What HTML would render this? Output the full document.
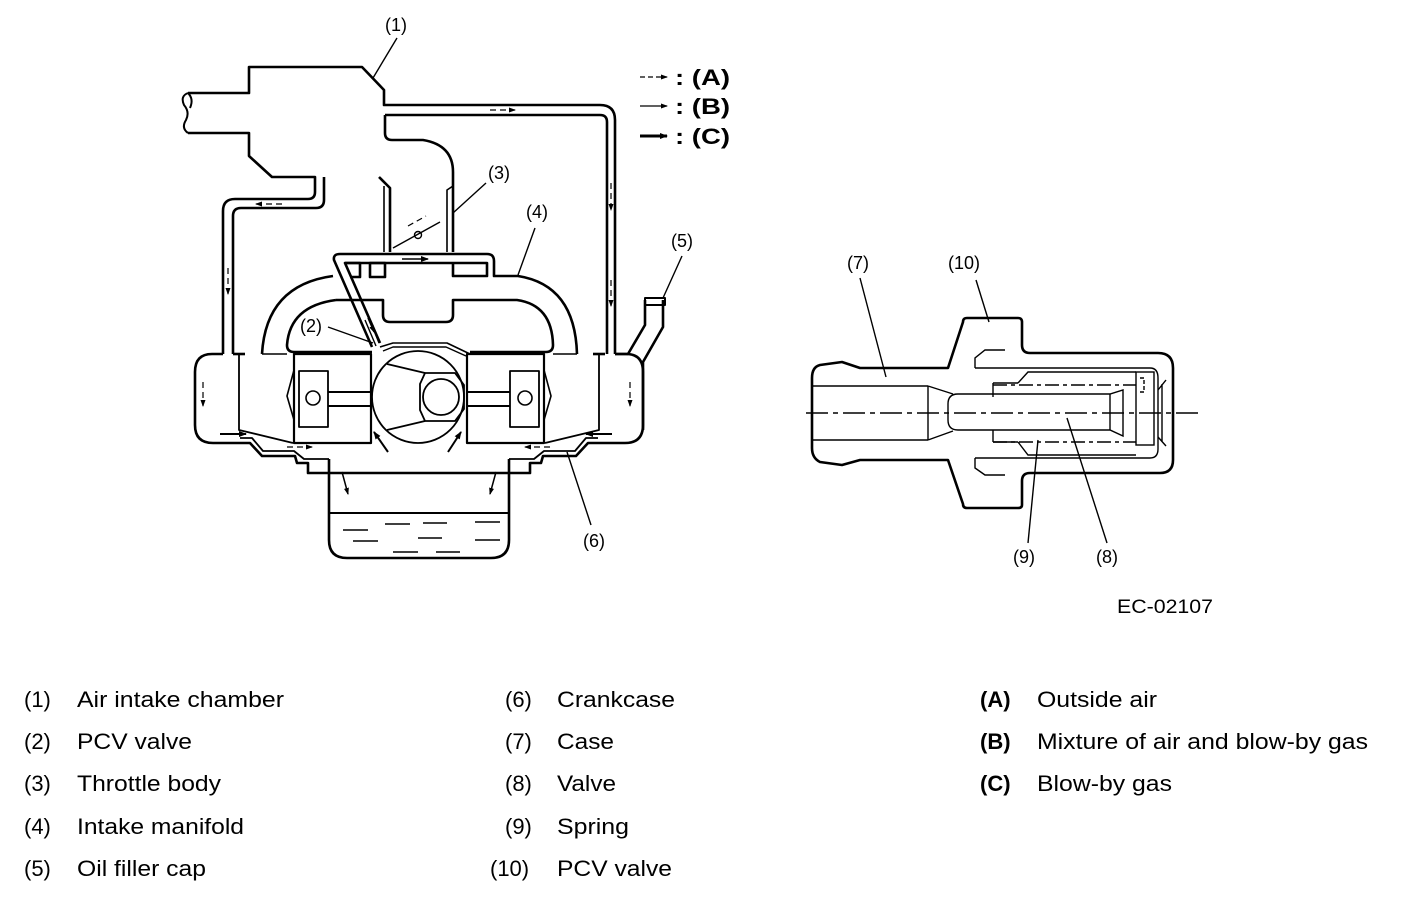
<!DOCTYPE html>
<html><head><meta charset="utf-8"><style>
html,body{margin:0;padding:0;background:#fff;}
svg{display:block;}
text{font-family:"Liberation Sans",Arial,sans-serif;fill:#000;}
</style></head><body>
<svg width="1408" height="898" viewBox="0 0 1408 898" xmlns="http://www.w3.org/2000/svg">
<defs>
<marker id="ah" markerWidth="8" markerHeight="6" refX="7" refY="3" orient="auto" markerUnits="userSpaceOnUse"><path d="M0,0 L8,3 L0,6 Z" fill="#000"/></marker>
<marker id="ahs" markerWidth="7" markerHeight="5" refX="6" refY="2.5" orient="auto" markerUnits="userSpaceOnUse"><path d="M0,0 L7,2.5 L0,5 Z" fill="#000"/></marker>
</defs>

<g fill="none" stroke="#000" stroke-width="2.6" stroke-linejoin="round">
<path d="M188 93 L249 93 L249 67 L362 67 L384 90 L384 105 L600 105 Q615 105 615 120 L615 354"/>
<path d="M188 133 L249 133 L249 156 L272 177 L315 177 L315 192 Q315 199 308 199 L235 199 Q223 199 223 211 L223 354"/>
<path d="M324 177 L324 200 Q324 208 316 208 L241 208 Q233 208 233 216 L233 354"/>
<path d="M385 115 L600 115 Q607 115 607 122 L607 354"/>
<path d="M188 93 Q180 96 184 105 Q190 112 186 120 Q181 128 188 133" stroke-width="2"/>
<path d="M188 93 Q194 99 190 108" stroke-width="2"/>
<path d="M385 115 L385 133 Q385 140 392 140 L423 140 Q453 145 453 172 L453 252"/>
<path d="M379 177 L390 188 L390 252"/>
<path d="M384 186 L384 252" stroke-width="1.6"/>
<path d="M453 186 L447 190 L447 252" stroke-width="1.6"/>
<line x1="393" y1="248" x2="440" y2="222" stroke-width="1.4"/>
<circle cx="418" cy="235" r="3.5" stroke-width="1.4"/>

<path d="M372 347 L334 260 Q333 254 340 254 L487 254 Q494 254 494 261 L494 276 L518 276 Q575 285 577 354"/>
<path d="M380 343 L345 263 L487 263 L487 276 L453 276 L453 263"/>
<path d="M345 263 L360 263 L360 277 L350 277"/>
<path d="M370 263 L385 263 L385 277 L370 277 Z"/>
<path d="M333 276 Q266 285 262 354"/>
<path d="M336 300 Q290 306 287 345 Q287 352 294 352 L372 352"/>
<path d="M336 300 L383 300 L383 315 Q383 322 390 322 L446 322 Q453 322 453 315 L453 300 L517 300 Q552 305 553 345 Q553 352 546 352 L470 352"/>
<line x1="365" y1="320" x2="376" y2="346" stroke-width="1.4"/>
<line x1="369" y1="318" x2="379" y2="343" stroke-width="1.4"/>
<path d="M380 347 L393 343 L447 343 L470 354" stroke-width="1.6"/>
<path d="M383 351 L393 347 L446 347 L466 356" stroke-width="1.4"/>

<line x1="262" y1="354" x2="287" y2="354" stroke-width="1.4"/>
<line x1="553" y1="354" x2="577" y2="354" stroke-width="1.4"/>

<path d="M615 354 L628 354 L645 325 L645 300"/>
<path d="M663 300 L663 327 L643 362 L643 430"/>
<rect x="645" y="298" width="20" height="7" stroke-width="2"/>
</g>

<g id="half" fill="none" stroke="#000" stroke-width="2.6" stroke-linejoin="round">
<path d="M223 354 L212 354 Q195 354 195 372 L195 425 Q195 443 213 443 L250 443 L262 456 L295 456 L297 463 L308 463 L308 473 L419 473"/>
<path d="M233 354 L245 354"/>
<path d="M240 438 L252 438 L263 451 L294 451 L304 459 L329 459" stroke-width="1.8"/>
<path d="M329 459 L329 540 Q329 558 347 558 L419 558"/>
<path d="M239 354 L239 430 L293 443" stroke-width="1.8"/>
<rect x="294" y="354" width="77" height="89" stroke-width="2.2"/>
<rect x="299" y="371" width="29" height="56" stroke-width="1.8"/>
<line x1="328" y1="392" x2="371" y2="392" stroke-width="2"/>
<line x1="328" y1="406" x2="371" y2="406" stroke-width="2"/>
<circle cx="313" cy="398" r="7" stroke-width="1.6"/>
<path d="M294 370 L287 396 L294 420" stroke-width="1.6"/>
<line x1="329" y1="513" x2="419" y2="513" stroke-width="2"/>
</g>
<use href="#half" transform="translate(838,0) scale(-1,1)"/>

<g fill="none" stroke="#000" stroke-width="1.8">
<circle cx="418" cy="397" r="46"/>
<line x1="387" y1="364" x2="425" y2="373"/>
<line x1="387" y1="430" x2="425" y2="421"/>
<path d="M425 373 L455 373 L464 385 L464 409 L455 421 L425 421 L420 410 L420 384 Z"/>
<circle cx="441" cy="397" r="18"/>
</g>

<g stroke="#000" stroke-width="1.6">
<line x1="343" y1="530" x2="368" y2="530"/><line x1="385" y1="524" x2="410" y2="524"/>
<line x1="423" y1="523" x2="447" y2="523"/><line x1="475" y1="522" x2="500" y2="522"/>
<line x1="353" y1="541" x2="378" y2="541"/><line x1="418" y1="538" x2="442" y2="538"/>
<line x1="475" y1="540" x2="500" y2="540"/><line x1="393" y1="552" x2="418" y2="552"/>
<line x1="436" y1="552" x2="460" y2="552"/>
</g>

<g stroke="#000" fill="none">
<line x1="490" y1="110" x2="515" y2="110" stroke-width="1.2" stroke-dasharray="6,4" marker-end="url(#ahs)"/>
<line x1="611" y1="183" x2="611" y2="210" stroke-width="1.2" stroke-dasharray="6,4" marker-end="url(#ahs)"/>
<line x1="611" y1="280" x2="611" y2="306" stroke-width="1.2" stroke-dasharray="6,4" marker-end="url(#ahs)"/>
<line x1="282" y1="204" x2="256" y2="204" stroke-width="1.2" stroke-dasharray="6,4" marker-end="url(#ahs)"/>
<line x1="228" y1="268" x2="228" y2="294" stroke-width="1.2" stroke-dasharray="6,4" marker-end="url(#ahs)"/>
<line x1="203" y1="382" x2="203" y2="406" stroke-width="1.2" stroke-dasharray="6,4" marker-end="url(#ahs)"/>
<line x1="630" y1="382" x2="630" y2="406" stroke-width="1.2" stroke-dasharray="6,4" marker-end="url(#ahs)"/>
<line x1="287" y1="447" x2="312" y2="447" stroke-width="1.2" stroke-dasharray="6,4" marker-end="url(#ahs)"/>
<line x1="550" y1="447" x2="525" y2="447" stroke-width="1.2" stroke-dasharray="6,4" marker-end="url(#ahs)"/>
<line x1="408" y1="226" x2="426" y2="216" stroke-width="1.2" stroke-dasharray="6,4"/>
<line x1="402" y1="259" x2="428" y2="259" stroke-width="1.5" marker-end="url(#ah)"/>
<line x1="220" y1="434" x2="246" y2="434" stroke-width="2" marker-end="url(#ah)"/>
<line x1="612" y1="434" x2="586" y2="434" stroke-width="2" marker-end="url(#ah)"/>
<line x1="388" y1="452" x2="374" y2="432" stroke-width="2" marker-end="url(#ah)"/>
<line x1="448" y1="452" x2="461" y2="432" stroke-width="2" marker-end="url(#ah)"/>
<line x1="342" y1="472" x2="348" y2="494" stroke-width="1.5" marker-end="url(#ahs)"/>
<line x1="496" y1="472" x2="490" y2="494" stroke-width="1.5" marker-end="url(#ahs)"/>
<line x1="368" y1="318" x2="374" y2="332" stroke-width="1.5" marker-end="url(#ahs)"/>
</g>

<g stroke="#000" stroke-width="1.4">
<line x1="397" y1="38" x2="373" y2="78"/>
<line x1="486" y1="183" x2="453" y2="213"/>
<line x1="535" y1="228" x2="518" y2="275"/>
<line x1="682" y1="256" x2="663" y2="298"/>
<line x1="328" y1="327" x2="373" y2="343"/>
<line x1="567" y1="452" x2="591" y2="525"/>
</g>
<g font-size="18">
<text x="385" y="31">(1)</text>
<text x="488" y="179">(3)</text>
<text x="526" y="218">(4)</text>
<text x="671" y="247">(5)</text>
<text x="300" y="332">(2)</text>
<text x="583" y="547">(6)</text>
<text x="847" y="269">(7)</text>
<text x="948" y="269">(10)</text>
<text x="1013" y="563">(9)</text>
<text x="1096" y="563">(8)</text>
</g>

<g stroke="#000" fill="none">
<line x1="640" y1="77" x2="667" y2="77" stroke-width="1.3" stroke-dasharray="5,3" marker-end="url(#ahs)"/>
<line x1="640" y1="106" x2="667" y2="106" stroke-width="1.3" marker-end="url(#ahs)"/>
<line x1="640" y1="136" x2="667" y2="136" stroke-width="3" marker-end="url(#ah)"/>
</g>
<g font-size="22" font-weight="bold">
<text x="675" y="85" textLength="55" lengthAdjust="spacingAndGlyphs">: (A)</text>
<text x="675" y="114" textLength="55" lengthAdjust="spacingAndGlyphs">: (B)</text>
<text x="675" y="144" textLength="55" lengthAdjust="spacingAndGlyphs">: (C)</text>
</g>

<g fill="none" stroke="#000" stroke-width="2.6" stroke-linejoin="round">
<path d="M820 365 L842 362 L860 368 L948 368 L963 322 Q963 318 967 318 L1018 318 Q1022 318 1022 322 L1022 345 Q1022 353 1030 353 L1158 353 Q1173 353 1173 368 L1173 460 Q1173 473 1160 473 L1030 473 Q1022 473 1022 481 L1022 505 Q1022 508 1018 508 L967 508 Q963 508 963 504 L948 460 L860 460 L842 465 L820 462 Q812 458 812 448 L812 378 Q812 367 820 365 Z"/>
</g>
<g fill="none" stroke="#000" stroke-width="1.4">
<line x1="812" y1="386" x2="928" y2="386"/>
<line x1="812" y1="440" x2="928" y2="440"/>
<line x1="928" y1="386" x2="928" y2="440"/>
<line x1="928" y1="386" x2="953" y2="394"/>
<line x1="928" y1="440" x2="953" y2="431"/>
<path d="M958 394 L1110 394 L1123 390 L1123 436 L1110 430 L958 430 Q948 430 948 420 L948 404 Q948 394 958 394 Z"/>
<line x1="1110" y1="394" x2="1110" y2="430"/>
<rect x="1136" y="372" width="18" height="73"/>
<path d="M975 368 L1150 368 Q1158 368 1158 378 L1158 449 Q1158 458 1150 458 L975 458"/>
<path d="M975 368 L975 358 L985 350 L1005 350"/>
<path d="M975 458 L975 468 L985 475 L1005 475"/>
<path d="M993 383 L993 397"/><path d="M993 430 L993 442"/>
<line x1="993" y1="383" x2="1018" y2="383"/><line x1="993" y1="442" x2="1018" y2="442"/>
<path d="M1018 383 L1028 372 L1136 372"/>
<path d="M1018 442 L1028 455 L1136 455"/>
<line x1="993" y1="385" x2="1136" y2="385" stroke-dasharray="14,4,4,4"/>
<line x1="993" y1="442" x2="1136" y2="442" stroke-dasharray="14,4,4,4"/>
<path d="M1140 378 L1144 378 L1144 392 L1140 392" stroke-dasharray="4,2"/>
<path d="M1158 390 L1166 380 M1158 437 L1166 446 M1162 384 L1162 442"/>
<line x1="806" y1="413" x2="1198" y2="413" stroke-width="1.6" stroke-dasharray="22,5,5,5"/>
<line x1="860" y1="278" x2="886" y2="377"/>
<line x1="976" y1="280" x2="989" y2="322"/>
<line x1="1038" y1="440" x2="1028" y2="543"/>
<line x1="1067" y1="418" x2="1107" y2="543"/>
</g>

<text x="1117" y="613" font-size="19" textLength="96" lengthAdjust="spacingAndGlyphs">EC-02107</text>

<g font-size="22">
<text x="24" y="707">(1)</text><text x="77" y="707" textLength="207" lengthAdjust="spacingAndGlyphs">Air intake chamber</text>
<text x="24" y="749">(2)</text><text x="77" y="749" textLength="115" lengthAdjust="spacingAndGlyphs">PCV valve</text>
<text x="24" y="791">(3)</text><text x="77" y="791" textLength="144" lengthAdjust="spacingAndGlyphs">Throttle body</text>
<text x="24" y="834">(4)</text><text x="77" y="834" textLength="167" lengthAdjust="spacingAndGlyphs">Intake manifold</text>
<text x="24" y="876">(5)</text><text x="77" y="876" textLength="129" lengthAdjust="spacingAndGlyphs">Oil filler cap</text>
<text x="505" y="707">(6)</text><text x="557" y="707" textLength="118" lengthAdjust="spacingAndGlyphs">Crankcase</text>
<text x="505" y="749">(7)</text><text x="557" y="749" textLength="57" lengthAdjust="spacingAndGlyphs">Case</text>
<text x="505" y="791">(8)</text><text x="557" y="791" textLength="59" lengthAdjust="spacingAndGlyphs">Valve</text>
<text x="505" y="834">(9)</text><text x="557" y="834" textLength="72" lengthAdjust="spacingAndGlyphs">Spring</text>
<text x="490" y="876">(10)</text><text x="557" y="876" textLength="115" lengthAdjust="spacingAndGlyphs">PCV valve</text>
<text x="980" y="707" font-weight="bold">(A)</text><text x="1037" y="707" textLength="120" lengthAdjust="spacingAndGlyphs">Outside air</text>
<text x="980" y="749" font-weight="bold">(B)</text><text x="1037" y="749" textLength="331" lengthAdjust="spacingAndGlyphs">Mixture of air and blow-by gas</text>
<text x="980" y="791" font-weight="bold">(C)</text><text x="1037" y="791" textLength="135" lengthAdjust="spacingAndGlyphs">Blow-by gas</text>
</g>
</svg>
</body></html>
